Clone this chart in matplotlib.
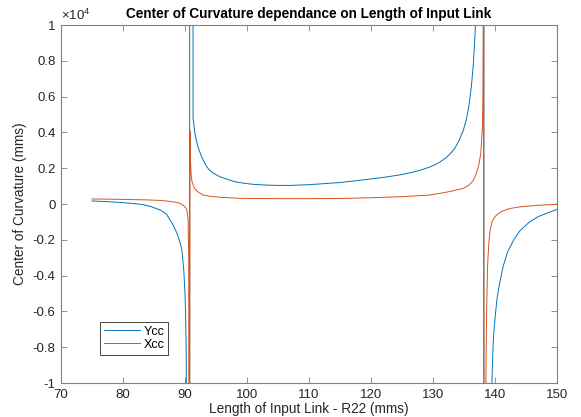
import numpy as np
import matplotlib
matplotlib.use("Agg")
import matplotlib.pyplot as plt
from matplotlib.ticker import FuncFormatter

plt.rcParams['font.family'] = ['Liberation Sans', 'DejaVu Sans']
plt.rcParams['mathtext.fontset'] = 'custom'
plt.rcParams['mathtext.rm'] = 'Liberation Sans'

# Length of input link R22 (mms) and centre-of-curvature Y coordinate
ycc_x = [75, 77, 79, 81, 83, 84.5, 86, 87, 87.6, 88.2, 88.7, 89.2, 89.5, 89.8,
         90.0, 90.1, 90.2, 90.35, 90.72, 90.78, 91.3, 91.6, 91.8, 92.0, 92.2,
         92.4, 92.7, 93.0, 93.5, 94.0, 94.6, 95.6, 96.5, 98, 99.5, 101, 103,
         105, 107, 110, 115, 120, 122.5, 125, 127, 128.5, 129.5, 130.3, 131,
         132, 132.7, 133.5, 134.2, 134.9, 135.4, 135.8, 136.2, 136.5, 136.8,
         137.1, 138.15, 138.25, 139.35, 139.5, 139.6, 139.7, 139.85, 140.0,
         140.3, 140.6, 141.3, 142, 143.0, 144, 145.6, 147, 148.3, 150]
ycc = [170, 140, 100, 50, -20, -140, -335, -560, -894, -1250, -1640, -2150,
       -2570, -3690, -5000, -6200, -8500, -30000, -1e6, 1e6, 4800, 3950, 3600,
       3300, 3080, 2900, 2620, 2400, 2085, 1880, 1715, 1527, 1420, 1250, 1160,
       1100, 1060, 1040, 1040, 1080, 1200, 1400, 1510, 1650, 1800, 1950, 2070,
       2190, 2320, 2560, 2780, 3100, 3550, 4134, 4750, 5500, 6600, 7800, 9600,
       13000, 1e6, -1e6, -13000, -10000, -8800, -7780, -7000, -6400, -5360,
       -4700, -3500, -2700, -2010, -1500, -990, -700, -520, -300]

# Length of input link R22 (mms) and centre-of-curvature X coordinate
xcc_x = [75, 78, 81, 84, 86, 87.5, 88.5, 89.2, 89.8, 90.1, 90.3, 90.5, 90.6,
         90.7, 90.8, 90.9, 91.0, 91.1, 91.3, 91.6, 92.0, 92.9, 94, 96, 98.9,
         105, 110, 115, 120, 125, 129.5, 132, 133, 134.9, 135.8, 136.5, 137.0,
         137.4, 137.7, 137.95, 138.05, 138.12, 138.15, 138.25, 138.45, 138.55,
         138.65, 138.8, 138.9, 139.0, 139.2, 139.5, 139.9, 140.3, 141, 142.4,
         144, 147, 150]
xcc = [280, 270, 250, 230, 200, 150, 100, 39, -100, -200, -335, -894, -3000,
       -40000, 4100, 2270, 1600, 1300, 1061, 850, 700, 503, 430, 370, 318, 300,
       300, 310, 350, 410, 503, 650, 720, 877, 1050, 1320, 1715, 2200, 2830,
       4134, 6000, 12000, 40000, -40000, -20000, -9000, -6000, -3500, -2800,
       -2200, -1500, -1000, -750, -600, -420, -250, -160, -70, -10]

fig = plt.figure(figsize=(5.81, 4.17), dpi=100)
ax = fig.add_axes([0.105, 0.0815, 0.8537, 0.8585])

ax.plot(ycc_x, ycc, color='#0072BD', lw=0.7, label='Ycc')
ax.plot(xcc_x, xcc, color='#D95319', lw=0.7, label='Xcc')

ax.set_xlim(70, 150)
ax.set_ylim(-1e4, 1e4)
ax.set_xticks(np.arange(70, 151, 10))
ax.set_yticks(np.arange(-10000, 10001, 2000))
ax.yaxis.set_major_formatter(FuncFormatter(lambda v, p: f"{v/1e4:g}".replace('−', '-')))

tc = '#262626'
for s in ax.spines.values():
    s.set_color('#808080')
    s.set_linewidth(0.8)
ax.tick_params(direction='in', length=4, width=0.6, color='#808080',
               labelcolor=tc, labelsize=9.5, top=True, right=True, pad=4)

ax.set_xlabel('Length of Input Link - R22 (mms)', fontsize=9.8, color=tc, labelpad=1)
ax.set_ylabel('Center of Curvature (mms)', fontsize=9.8, color=tc, labelpad=4)
ax.set_title('Center of Curvature dependance on Length of Input Link',
             fontsize=9.8, fontweight='bold', pad=5)
ax.text(0.0, 1.005, r'$\times\mathregular{10^{4}}$', transform=ax.transAxes,
        fontsize=9.5, color=tc, ha='left', va='bottom')

leg = ax.legend(loc='upper left', bbox_to_anchor=(0.0786, 0.171), borderaxespad=0,
                fontsize=9, handlelength=2.9, handletextpad=0.3, fancybox=False,
                framealpha=1, edgecolor='#262626', borderpad=0.3, labelspacing=0.1)
leg.get_frame().set_linewidth(0.6)

fig.savefig('out.png', dpi=100)
